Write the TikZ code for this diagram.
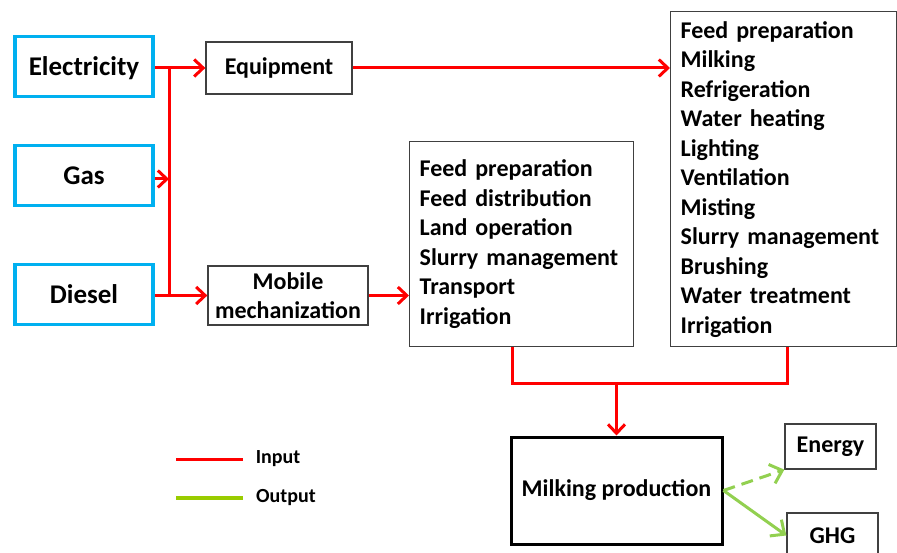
\documentclass[tikz,border=0pt]{standalone}
\usepackage{fontspec}
\setmainfont{Carlito}
\usetikzlibrary{arrows.meta}

\definecolor{srcblue}{RGB}{0,176,240}
\definecolor{inred}{RGB}{255,0,0}
\definecolor{outgreen}{RGB}{146,208,80}
\definecolor{keygreen}{RGB}{153,204,0}
\definecolor{boxgray}{RGB}{64,64,64}

\tikzset{
  srcbox/.style={draw=srcblue, line width=3.5pt, minimum width=138pt, minimum height=60pt,
    text height=22pt, text depth=3pt, font=\fontsize{27}{32}\selectfont\bfseries},
  usebox/.style={draw=boxgray, line width=1.3pt, inner sep=0pt,
    font=\fontsize{24}{29.5}\selectfont\bfseries},
  listbox/.style={usebox, anchor=north west, align=left, inner xsep=10pt},
  inflow/.style={draw=inred, line width=3pt, -{Straight Barb[length=9pt,width=17pt,line width=3pt]}},
  inline/.style={draw=inred, line width=3pt},
  outflow/.style={draw=outgreen, line width=3pt, -{Straight Barb[length=11pt,width=20pt,line width=3pt]}},
  keytext/.style={anchor=west, font=\fontsize{20}{24}\selectfont\bfseries}
}

\begin{document}
\begin{tikzpicture}[x=1pt,y=-1pt]
\useasboundingbox (0,0) rectangle (897,553);
% Energy sources on the left
\node[srcbox] (elec) at (84,66.5) {Electricity};
\node[srcbox] (gas) at (84,175.5) {Gas};
\node[srcbox] (diesel) at (84,294.5) {Diesel};
% Where the energy goes
\node[usebox, minimum width=146pt, minimum height=52pt] (equip) at (279,68) {Equipment};
\node[usebox, minimum width=160pt, minimum height=59pt, align=center] (mobile) at (288,295.5)
  {Mobile\\mechanization};
% The two lists of farm operations
\node[listbox, text width=204pt, minimum height=205pt] (mobops) at (409,141)
  {Feed preparation\\Feed distribution\\Land operation\\Slurry management\\Transport\\Irrigation};
\node[listbox, text width=206pt, minimum height=335pt] (equipops) at (670,11)
  {Feed preparation\\Milking\\Refrigeration\\Water heating\\Lighting\\Ventilation\\Misting\\%
   Slurry management\\Brushing\\Water treatment\\Irrigation};
% Production and its outputs
\node[draw, line width=3pt, minimum width=211pt, minimum height=107pt,
  font=\fontsize{24}{29.5}\selectfont\bfseries] (milk) at (616.5,490.5) {Milking production};
\node[usebox, minimum width=91pt, minimum height=45pt] (energy) at (830.5,446.5) {Energy};
\node[usebox, minimum width=91pt, minimum height=45pt] (ghg) at (832.5,535.5) {GHG};

%Red bus joining the three sources
\coordinate (bustop) at (169,67);
\coordinate (busbot) at (169,294);
\draw[inline] (bustop) -- (busbot);
\draw[inflow] (elec.east |- equip.west) -- (equip.west);
\draw[inflow] (gas.east) ++(0,3.5) -- (169,179);
\draw[inflow] (diesel.east |- mobile.west) -- (mobile.west);
\draw[inflow] (equip.east) -- (equip.east -| equipops.west);
\draw[inflow] (mobile.west -| mobile.east) -- (mobile.west -| mobops.west);
% Both lists join and feed production
\coordinate (joinl) at (512,383);
\coordinate (joinr) at (787,383);
\draw[inline, line join=miter] (joinl |- mobops.south) -- (joinl) -- (joinr) -- (joinr |- equipops.south);
\draw[inflow] (milk.north |- joinl) -- (milk.north);
% Outputs
\draw[outflow, dashed, dash pattern=on 12pt off 7pt] (milk.east) -- (energy.south west);
\draw[outflow] (milk.east) -- (ghg.west);

%Legend
\coordinate (kin) at (176,459);
\coordinate (kout) at (176,498);
\draw[inline] (kin) -- ++(67,0) node[keytext, black, xshift=8pt] (lin) {Input};
\draw[draw=keygreen, line width=3.5pt] (kout) -- ++(67,0) node[keytext, black, xshift=8pt] (lout) {Output};
\end{tikzpicture}
\end{document}
